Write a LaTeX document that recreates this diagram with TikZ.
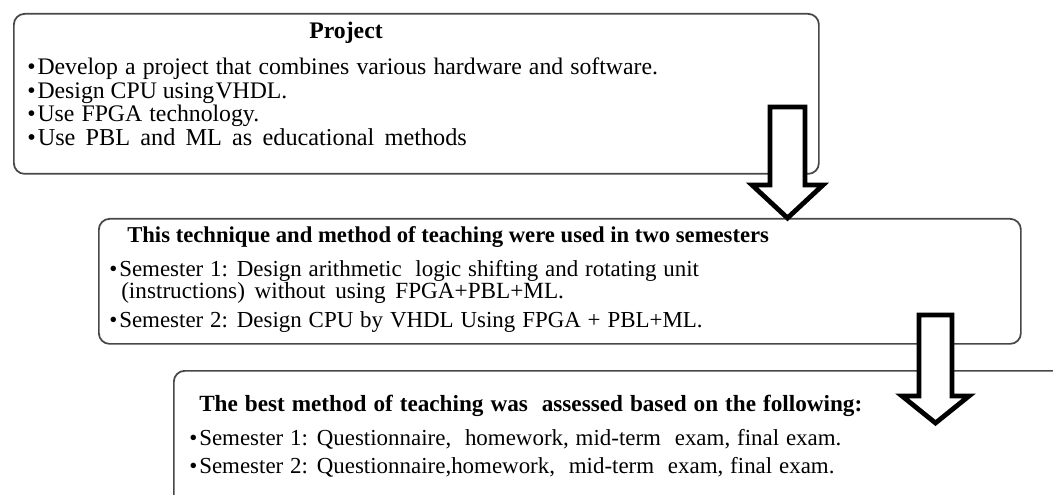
\documentclass[tikz,border=0pt]{standalone}
\usepackage{fontspec}
\setmainfont{Liberation Serif}
% size the text, then open the word spaces a little (or a bit more)
\newcommand{\sz}[1]{\fontsize{#1}{#1}\selectfont}
\newcommand{\szw}[1]{\fontsize{#1}{#1}\selectfont\spaceskip=0.3em plus 0.1em\relax}
\newcommand{\szww}[1]{\fontsize{#1}{#1}\selectfont\spaceskip=0.42em plus 0.1em\relax}
\begin{document}
\begin{tikzpicture}[x=0.75pt,y=-0.75pt,
  panel/.style={draw=black!72, line width=1.3pt, rounded corners=8pt, fill=white,
    anchor=north west, inner sep=0pt},
  txt/.style={anchor=base west, inner sep=0pt},
  head/.style={txt, font=\bfseries},
  blockarrow/.style={draw=black, line width=3.6pt, fill=white, miter limit=10}]
\useasboundingbox (0,0) rectangle (1053,495);
\clip (0,0) rectangle (1053,495);

% panel 1
\node[panel, minimum width=805*0.75pt, minimum height=160*0.75pt] (p1) at (13,13) {};
\node[head, anchor=base] (p1h) at (346,39) {\sz{17.8}Project};
\node[txt] (p1a) at (27,75) {\szw{17.8}\textbullet\hspace{1.5pt}Develop a project that combines various hardware and software.};
\node[txt] (p1b) at (27,98.5) {\sz{17.8}\textbullet\hspace{1.5pt}Design CPU using\kern1pt VHDL.};
\node[txt] (p1c) at (27,122) {\szw{17.8}\textbullet\hspace{1.5pt}Use FPGA technology.};
\node[txt] (p1d) at (27,145.5) {\szww{18.2}\textbullet\hspace{1.5pt}Use PBL and ML as educational methods};

% panel 2
\node[panel, minimum width=922*0.75pt, minimum height=125*0.75pt] (p2) at (98,218) {};
\node[head] (p2h) at (127,243) {\sz{17}This technique and method of teaching were used in two semesters};
\node[txt] (p2a) at (109,276.5) {\szw{17.2}\textbullet\hspace{1.5pt}Semester 1: Design arithmetic \ logic shifting and rotating unit};
\node[txt] (p2b) at (121,298.5) {\szww{17.4}(instructions) without using FPGA+PBL+ML.};
\node[txt] (p2c) at (109,328) {\szw{17.2}\textbullet\hspace{1.5pt}Semester 2: Design CPU by VHDL Using FPGA + PBL+ML.};

% panel 3 (runs past the right and lower edges)
\node[panel, minimum width=930*0.75pt, minimum height=160*0.75pt] (p3) at (173,370) {};
\node[head] (p3h) at (199,411) {\szw{17.4}The best method of teaching was \ assessed based on the following:};
\node[txt] (p3a) at (189,445) {\szw{17.2}\textbullet\hspace{1.5pt}Semester 1: Questionnaire, \ homework, mid-term \ exam, final exam.};
\node[txt] (p3b) at (189,473) {\szw{17.2}\textbullet\hspace{1.5pt}Semester 2: Questionnaire,homework, \ mid-term \ exam, final exam.};

% hollow block arrows between the panels
\coordinate (a1) at (787.5,107);
\draw[blockarrow] (770,107) -- (805,107) -- (805,185) -- (823,185)
  -- (p2.north -| a1) -- (752,185) -- (770,185) -- cycle;
\coordinate (a2) at (935.5,315);
\draw[blockarrow] (919,315) -- (952,315) -- (952,396) -- (969,396)
  -- (935.5,423) -- (902,396) -- (919,396) -- cycle;
\end{tikzpicture}
\end{document}
